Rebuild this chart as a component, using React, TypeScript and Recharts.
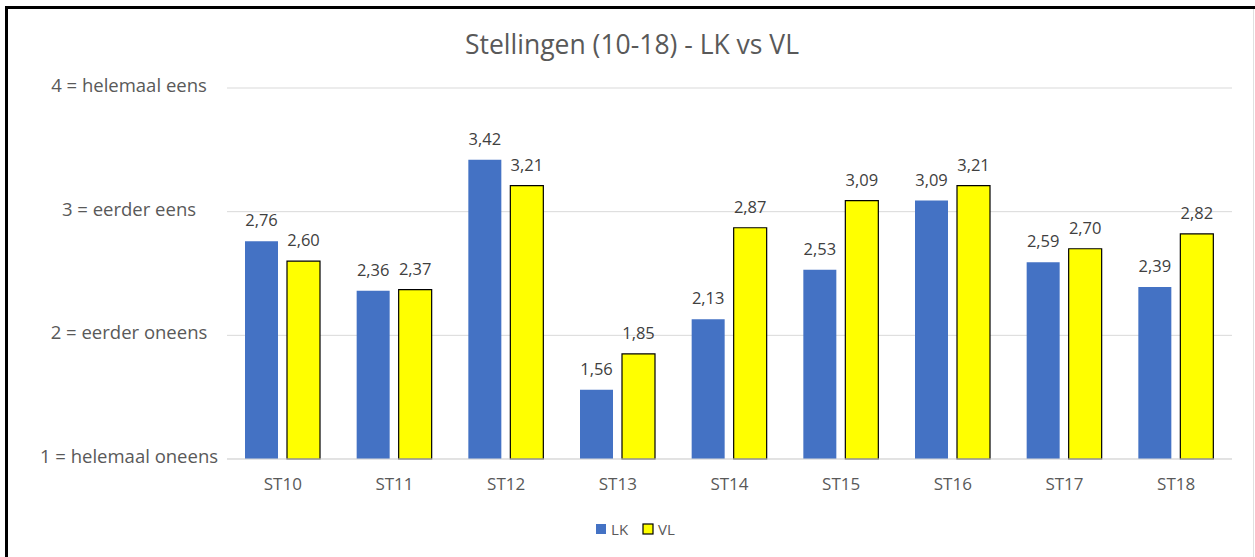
import { BarChart, Bar, XAxis, YAxis, CartesianGrid, LabelList, Legend } from "recharts"

const categories = ["ST10", "ST11", "ST12", "ST13", "ST14", "ST15", "ST16", "ST17", "ST18"]
const lkValues = [2.76, 2.36, 3.42, 1.56, 2.13, 2.53, 3.09, 2.59, 2.39]
const vlValues = [2.6, 2.37, 3.21, 1.85, 2.87, 3.09, 3.21, 2.7, 2.82]
const yTicks = [1, 2, 3, 4]
const yTickLabels: Record<number, string> = {
  1: "1 = helemaal oneens",
  2: "2 = eerder oneens",
  3: "3 = eerder eens",
  4: "4 = helemaal eens",
}

const FONT = "'Open Sans', Lato, sans-serif"
const LK_COLOR = "#4472C4"
const VL_COLOR = "#FFFF00"

const data = categories.map((name, i) => ({ name, LK: lkValues[i], VL: vlValues[i] }))

const fmt = (v: any) => Number(v).toFixed(2).replace(".", ",")

function YTick(props: any) {
  const { x, y, payload } = props
  return (
    <text x={x - 90} y={y} dy={4} textAnchor="middle" fill="#595959" fontSize={18.5} fontFamily={FONT}>
      {yTickLabels[payload.value]}
    </text>
  )
}

function LegendContent() {
  const items = [
    { name: "LK", color: LK_COLOR, stroke: "none" },
    { name: "VL", color: VL_COLOR, stroke: "#000" },
  ]
  return (
    <div
      style={{
        display: "flex",
        justifyContent: "center",
        gap: 14,
        paddingLeft: 38,
        fontFamily: FONT,
        fontSize: 15,
        color: "#595959",
      }}
    >
      {items.map((it) => (
        <div key={it.name} style={{ display: "flex", alignItems: "center", gap: 4 }}>
          <svg width={12} height={12}>
            <rect x={1} y={1} width={10} height={10} fill={it.color} stroke={it.stroke} strokeWidth={1.2} />
          </svg>
          <span>{it.name}</span>
        </div>
      ))}
    </div>
  )
}

export default function App() {
  return (
    <div style={{ position: "absolute", left: 0, top: 0, width: 1255, height: 557, background: "#fff", overflow: "hidden" }}>
      <div
        style={{
          position: "absolute",
          left: 5,
          top: 6,
          width: 1252,
          height: 560,
          borderLeft: "3px solid #000",
          borderTop: "3px solid #000",
          boxSizing: "border-box",
        }}
      />
      <div style={{ position: "absolute", left: 1253, top: 9, width: 1, height: 548, background: "#e0e0e0" }} />
      <div
        style={{
          position: "absolute",
          left: 0,
          top: 26,
          width: 1264,
          textAlign: "center",
          fontFamily: FONT,
          fontSize: 26.5,
          color: "#595959",
          lineHeight: "36px",
        }}
      >
        Stellingen (10-18) - LK vs VL
      </div>
      <BarChart
        width={1255}
        height={557}
        data={data}
        margin={{ top: 88, right: 23, left: 0, bottom: 18 }}
        barSize={33}
        barGap={9}
      >
        <CartesianGrid horizontal vertical={false} stroke="#d9d9d9" />
        <XAxis
          dataKey="name"
          axisLine={{ stroke: "#d9d9d9" }}
          tickLine={false}
          height={60}
          tickMargin={13}
          tick={{ fill: "#595959", fontSize: 17, fontFamily: FONT }}
        />
        <YAxis
          domain={[1, 4]}
          ticks={yTicks}
          width={227}
          axisLine={false}
          tickLine={false}
          tick={<YTick />}
        />
        <Legend verticalAlign="bottom" height={20} content={<LegendContent />} />
        <Bar dataKey="LK" fill={LK_COLOR} isAnimationActive={false}>
          <LabelList dataKey="LK" position="top" offset={15} formatter={fmt} fill="#404040" fontSize={16.5} fontFamily={FONT} />
        </Bar>
        <Bar dataKey="VL" fill={VL_COLOR} stroke="#000" strokeWidth={1.2} isAnimationActive={false}>
          <LabelList dataKey="VL" position="top" offset={15} formatter={fmt} fill="#404040" fontSize={16.5} fontFamily={FONT} />
        </Bar>
      </BarChart>
    </div>
  )
}
